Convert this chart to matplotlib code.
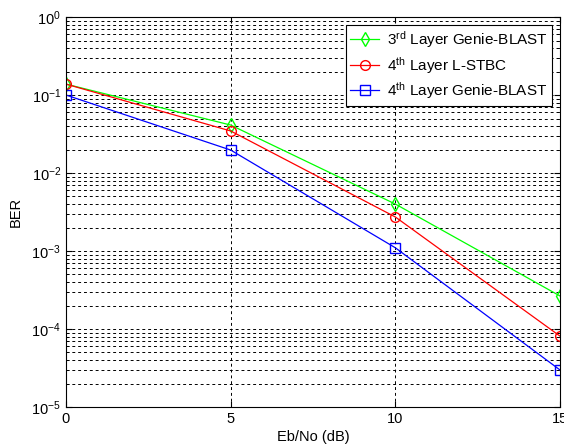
import matplotlib
matplotlib.use("Agg")
import matplotlib.pyplot as plt
from matplotlib.ticker import LogLocator, NullFormatter

plt.rcParams['font.family'] = ['Liberation Sans', 'DejaVu Sans']
plt.rcParams['mathtext.fontset'] = 'custom'
plt.rcParams['mathtext.rm'] = 'Liberation Sans'
plt.rcParams['mathtext.it'] = 'Liberation Sans'

# Eb/No (dB)
ebno = [0, 5, 10, 15]
ber_3rd_genie = [0.138, 0.0412, 0.0040, 2.65e-4]
ber_4th_lstbc = [0.138, 0.0346, 0.00273, 8.1e-5]
ber_4th_genie = [0.100, 0.0197, 0.0011, 2.98e-5]

labels = [r'3$^{\mathrm{rd}}$ Layer Genie-BLAST',
          r'4$^{\mathrm{th}}$ Layer L-STBC',
          r'4$^{\mathrm{th}}$ Layer Genie-BLAST']

fig = plt.figure(figsize=(5.64, 4.48), dpi=100)
ax = fig.add_axes([0.117, 0.0915, 0.876, 0.8705])

ax.semilogy(ebno, ber_3rd_genie, color='#00ff00', marker='d', mfc='none',
            ms=7, lw=0.9, label=labels[0])
ax.semilogy(ebno, ber_4th_lstbc, color='#ff0000', marker='o', mfc='none',
            ms=7, lw=0.9, label=labels[1])
ax.semilogy(ebno, ber_4th_genie, color='#0000ff', marker='s', mfc='none',
            ms=7, lw=0.9, label=labels[2])

ax.set_xlim(0, 15)
ax.set_ylim(1e-5, 1)
ax.set_xticks([0, 5, 10, 15])
ax.yaxis.set_major_locator(LogLocator(base=10, numticks=10))
ax.yaxis.set_minor_locator(LogLocator(base=10, subs=range(2, 10), numticks=100))
ax.yaxis.set_minor_formatter(NullFormatter())

ax.grid(True, which='major', axis='both', color='black', ls=(0, (3, 3)), lw=0.7)
ax.grid(True, which='minor', axis='y', color='black', ls=(0, (3, 3)), lw=0.7)

ax.tick_params(which='both', direction='in', top=True, right=True, labelsize=10.5)
ax.tick_params(which='major', length=4)
ax.tick_params(which='minor', length=2)

ax.set_xlabel('Eb/No (dB)', fontsize=10.5, labelpad=3)
ax.set_ylabel('BER', fontsize=10.5, labelpad=6)

leg = ax.legend(loc='upper right', fontsize=11, fancybox=False, framealpha=1,
                edgecolor='black', borderaxespad=0.5, borderpad=0.3,
                handlelength=1.9, handletextpad=0.5, labelspacing=0.3)
leg.get_frame().set_linewidth(0.8)

fig.savefig('out.png', dpi=100)
